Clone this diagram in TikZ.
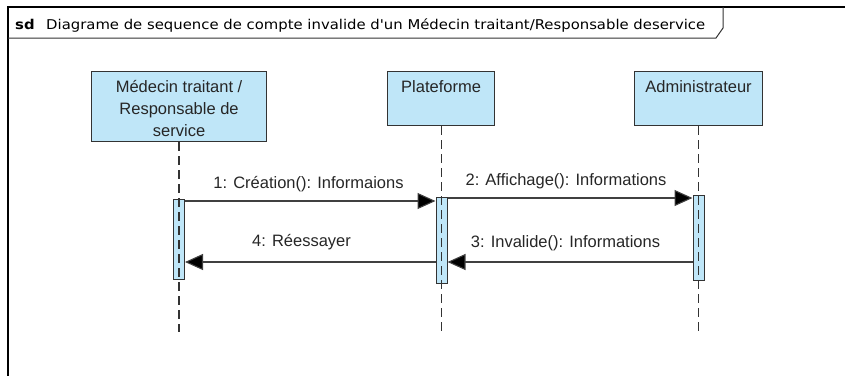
\documentclass[tikz,border=0pt]{standalone}
\usepackage{fontspec}
\setmainfont{Liberation Sans}
\newfontfamily\titlefont[FakeStretch=1.1]{DejaVu Sans}
\usetikzlibrary{arrows.meta}

\definecolor{boxfill}{HTML}{BFE6F8}
\definecolor{edge}{HTML}{333333}
\definecolor{msgline}{HTML}{404040}

\tikzset{
  frameline/.style={draw=black, line width=1.6pt},
  headbox/.style={draw=edge, fill=boxfill, line width=1.1pt, rectangle, inner sep=0pt},
  headtext/.style={font=\fontsize{16.5}{22}\selectfont, text=black!85, align=center, inner sep=0pt},
  actbox/.style={draw=edge, fill=boxfill, line width=1pt, rectangle, inner sep=0pt,
    minimum width=11pt},
  lifeline/.style={draw=black!80, line width=1.1pt, dash pattern=on 9pt off 5pt},
  msg/.style={draw=msgline, line width=1.1pt,
    -{Triangle[length=18pt, width=16pt, fill=black]}},
  msgtext/.style={font=\fontsize{16.5}{20}\selectfont, text=black!85, anchor=base, inner sep=0pt}
}

\begin{document}
\begin{tikzpicture}[x=1pt, y=-1pt]
  \useasboundingbox (0,0) rectangle (845,376);

  % diagram frame, open to the right and bottom
  \draw[frameline] (845,7) -- (8,7) -- (8,376);
  % title tab
  \draw[draw=edge, line width=1pt] (8,38) -- (716,38) -- (723,28) -- (723,7);
  \node[anchor=base west, inner sep=0pt, font=\titlefont\fontsize{13.5}{15}\selectfont\bfseries] (sd) at (15,29) {sd};
  \node[anchor=base west, inner sep=0pt, font=\titlefont\fontsize{13.5}{15}\selectfont] (title) at (46,29)
    {Diagrame de sequence de compte invalide d'un Médecin traitant/Responsable deservice};

  % lifeline heads
  \node[headbox, anchor=north west, minimum width=175pt, minimum height=70pt] (medecin) at (91,71) {};
  \node[headbox, anchor=north west, minimum width=107pt, minimum height=54pt] (plateforme) at (387,71) {};
  \node[headbox, anchor=north west, minimum width=128pt, minimum height=54pt] (admin) at (634,71) {};

  % names: base is the last line, set 21pt under the box top for one line
  \node[headtext, anchor=base] (medecinlbl) at ([yshift=-65pt]medecin.north)
    {Médecin traitant /\\Responsable de\\service};
  \node[headtext, anchor=base] (plateformelbl) at ([yshift=-21pt]plateforme.north) {Plateforme};
  \node[headtext, anchor=base] (adminlbl) at ([yshift=-21pt]admin.north) {Administrateur};

  % activation bars
  \node[actbox, anchor=north, minimum height=80pt] (act1) at (179,199) {};
  \node[actbox, anchor=north, minimum height=86pt] (act2) at (441.5,197) {};
  \node[actbox, anchor=north, minimum height=85pt] (act3) at (698.5,195) {};

  % lifelines
  \coordinate (end1) at (179,332);
  \coordinate (end2) at (441.5,332);
  \coordinate (end3) at (698.5,332);
  \draw[lifeline] (medecin.south -| act1) -- (end1);
  \draw[lifeline] (plateforme.south -| act2) -- (end2);
  \draw[lifeline] (admin.south -| act3) -- (end3);

  % message levels
  \coordinate (m1) at (0,201);
  \coordinate (m2) at (0,198);
  \coordinate (m3) at (0,262);
  \coordinate (m4) at (0,262);

  \draw[msg] (act1.east |- m1) -- (act2.west |- m1);
  \draw[msg] (act2.east |- m2) -- (act3.west |- m2);
  \draw[msg] (act3.west |- m3) -- (act2.east |- m3);
  \draw[msg] (act2.west |- m4) -- (act1.east |- m4);

  \node[msgtext] (l1) at (308.5,188) {1: Création(): Informaions};
  \node[msgtext] (l2) at (566,185) {2: Affichage(): Informations};
  \node[msgtext] (l3) at (565.5,247) {3: Invalide(): Informations};
  \node[msgtext] (l4) at (301.5,246) {4: Réessayer};
\end{tikzpicture}
\end{document}
